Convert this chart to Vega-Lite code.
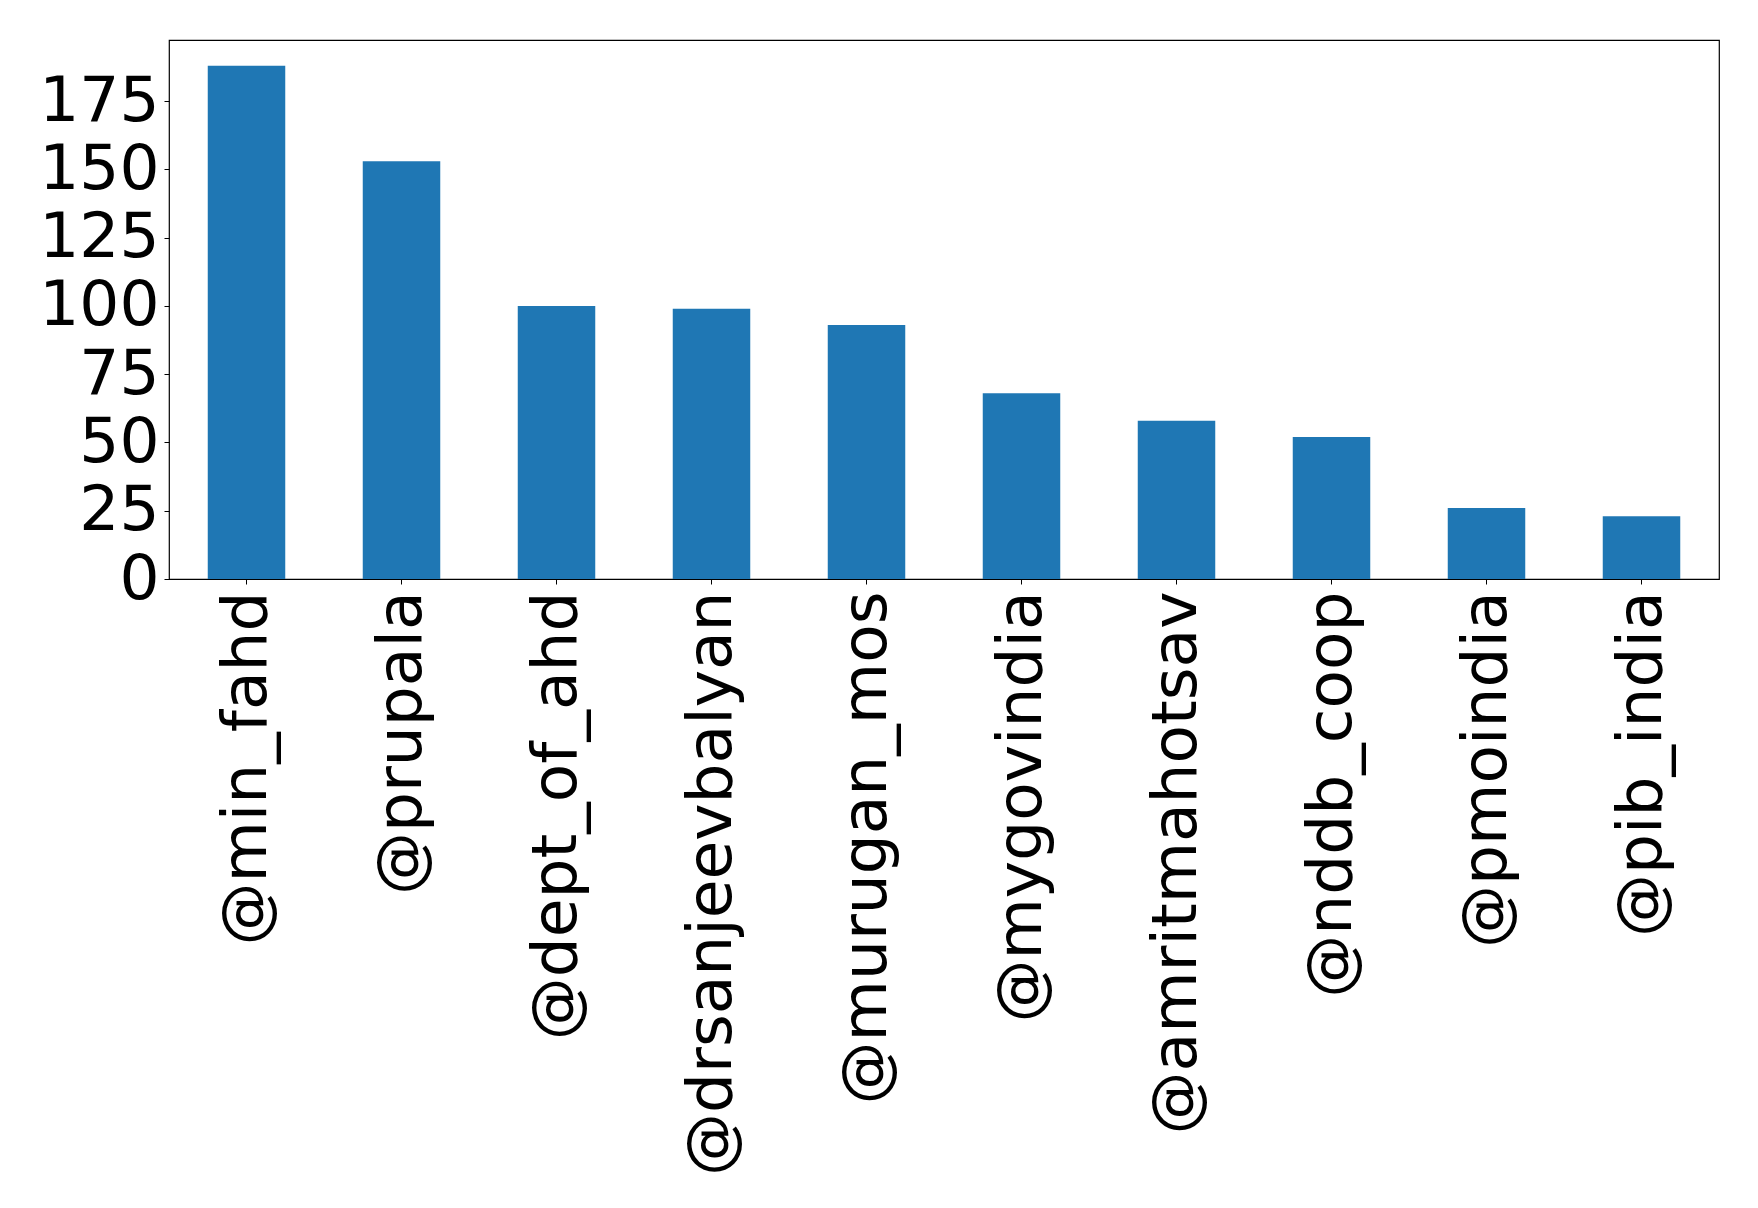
{
  "$schema": "https://vega.github.io/schema/vega-lite/v6.json",
  "autosize": {"type": "none"},
  "padding": {"left": 169, "top": 40, "right": 39, "bottom": 629},
  "width": 1550,
  "height": 539,
  "background": "white",
  "config": {
    "view": {"stroke": "black", "strokeWidth": 1.2},
    "font": "DejaVu Sans"
  },
  "data": {
    "values": [
      {"account": "@min_fahd", "count": 188},
      {"account": "@prupala", "count": 153},
      {"account": "@dept_of_ahd", "count": 100},
      {"account": "@drsanjeevbalyan", "count": 99},
      {"account": "@murugan_mos", "count": 93},
      {"account": "@mygovindia", "count": 68},
      {"account": "@amritmahotsav", "count": 58},
      {"account": "@nddb_coop", "count": 52},
      {"account": "@pmoindia", "count": 26},
      {"account": "@pib_india", "count": 23}
    ]
  },
  "mark": {"type": "bar", "color": "#1f77b4"},
  "encoding": {
    "x": {
      "field": "account",
      "type": "nominal",
      "sort": null,
      "scale": {"paddingInner": 0.5, "paddingOuter": 0.25},
      "axis": {
        "title": null,
        "labelAngle": -90,
        "labelFontSize": 63,
        "labelColor": "black",
        "labelFont": "DejaVu Sans",
        "labelPadding": 7,
        "tickSize": 5,
        "tickColor": "black",
        "domain": false,
        "labelLimit": 1000
      }
    },
    "y": {
      "field": "count",
      "type": "quantitative",
      "scale": {"domain": [0, 197.4], "nice": false, "zero": true},
      "axis": {
        "title": null,
        "values": [0, 25, 50, 75, 100, 125, 150, 175],
        "grid": false,
        "labelFontSize": 63,
        "labelColor": "black",
        "labelFont": "DejaVu Sans",
        "labelPadding": 5,
        "tickSize": 5,
        "tickColor": "black",
        "domain": false
      }
    }
  }
}
